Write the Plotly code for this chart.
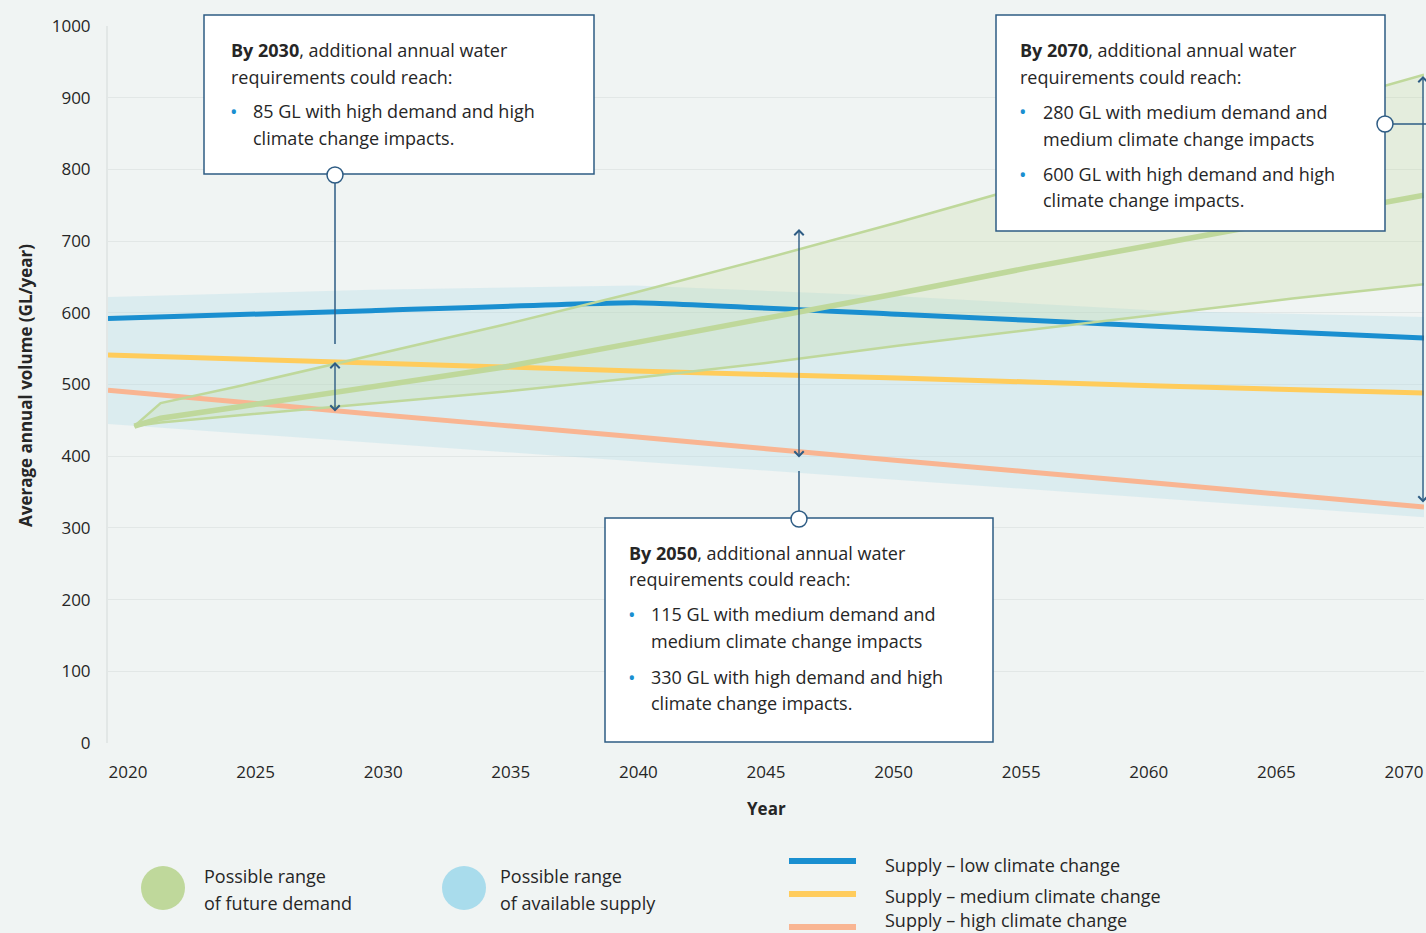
import plotly.graph_objects as go

# ---------------- data ----------------
supply_years = [2020, 2030, 2040, 2050, 2060, 2070]
supply_low = [592, 603, 614, 598, 581, 565]
supply_medium = [541, 530, 519, 509, 498, 488]
supply_high = [492, 459, 427, 394, 362, 329]
supply_range_upper = [622, 632, 638, 623, 603, 594]
supply_range_lower = [445, 419, 393, 367, 341, 315]

demand_years = [2021, 2022, 2025, 2030, 2035, 2040, 2045, 2050, 2055, 2060, 2065, 2070]
demand_high = [442, 474, 498, 540, 583, 628, 676, 726, 778, 830, 880, 932]
demand_medium = [442, 453, 469, 496, 524, 558, 592, 627, 663, 697, 731, 764]
demand_low = [442, 447, 457, 474, 490, 509, 530, 554, 576, 599, 620, 640]

x_ticks = [2020, 2025, 2030, 2035, 2040, 2045, 2050, 2055, 2060, 2065, 2070]
y_ticks = [0, 100, 200, 300, 400, 500, 600, 700, 800, 900, 1000]

# ---------------- styling ----------------
FONT = "Open Sans"
FS = 18
TXT = "#262626"
BG = "#f0f4f3"
GRID = "#e2e7e6"
BLUE = "#1a8fd0"
YELLOW = "#ffcc5c"
ORANGE = "#f9b592"
GREEN = "#bfd89b"
BOXC = "#2e5c84"

W, H = 1426, 933
L, R, T, B = 108, 1424, 26, 743


def px(x):
    return (x - L) / (R - L)


def py(y):
    return (B - y) / (B - T)


fig = go.Figure()

# supply band
fig.add_trace(go.Scatter(x=supply_years, y=supply_range_upper, mode="lines",
                         line=dict(width=0), hoverinfo="skip", showlegend=False))
fig.add_trace(go.Scatter(x=supply_years, y=supply_range_lower, mode="lines",
                         line=dict(width=0), fill="tonexty",
                         fillcolor="rgba(172,218,232,0.30)", hoverinfo="skip",
                         showlegend=False))
# demand band
fig.add_trace(go.Scatter(x=demand_years, y=demand_high, mode="lines",
                         line=dict(width=0), hoverinfo="skip", showlegend=False))
fig.add_trace(go.Scatter(x=demand_years, y=demand_low, mode="lines",
                         line=dict(width=0), fill="tonexty",
                         fillcolor="rgba(191,216,155,0.25)", hoverinfo="skip",
                         showlegend=False))
# supply lines
for vals, col in [(supply_low, BLUE), (supply_medium, YELLOW), (supply_high, ORANGE)]:
    fig.add_trace(go.Scatter(x=supply_years, y=vals, mode="lines",
                             line=dict(color=col, width=5, shape="spline", smoothing=0.3),
                             showlegend=False))
# demand lines
fig.add_trace(go.Scatter(x=demand_years, y=demand_high, mode="lines",
                         line=dict(color=GREEN, width=2.5), showlegend=False))
fig.add_trace(go.Scatter(x=demand_years, y=demand_low, mode="lines",
                         line=dict(color=GREEN, width=2.5), showlegend=False))
fig.add_trace(go.Scatter(x=demand_years, y=demand_medium, mode="lines",
                         line=dict(color=GREEN, width=5.5), showlegend=False))
# carrier for tick-label axis
fig.add_trace(go.Scatter(x=[x_ticks[0], x_ticks[-1]], y=[0, 0], xaxis="x2",
                         mode="lines", line=dict(width=0), opacity=0,
                         hoverinfo="skip", showlegend=False))

shapes = []
annotations = []

# boxes
for (x0, y0, x1, y1) in [(204, 15, 594, 174), (605, 518, 993, 742), (996, 15, 1385, 231)]:
    shapes.append(dict(type="rect", xref="paper", yref="paper",
                       x0=px(x0), x1=px(x1), y0=py(y1), y1=py(y0),
                       fillcolor="white", line=dict(color=BOXC, width=1.5),
                       layer="above"))
# connectors
for (x0, y0, x1, y1) in [(335, 175, 335, 344), (799, 519, 799, 471), (1385, 124, 1426, 124)]:
    shapes.append(dict(type="line", xref="paper", yref="paper",
                       x0=px(x0), x1=px(x1), y0=py(y0), y1=py(y1),
                       line=dict(color=BOXC, width=1.5), layer="above"))
# circles
for (cx, cy) in [(335, 175), (799, 519), (1385, 124)]:
    r = 8
    shapes.append(dict(type="circle", xref="paper", yref="paper",
                       x0=px(cx - r), x1=px(cx + r), y0=py(cy + r), y1=py(cy - r),
                       fillcolor="white", line=dict(color=BOXC, width=1.5),
                       layer="above"))

# double arrows
for (x, ytop, ybot) in [(335, 362, 413), (799, 229, 459), (1423, 76, 504)]:
    annotations.append(dict(xref="paper", yref="paper", x=px(x), y=py(ytop),
                            ax=0, ay=ybot - ytop, text="", showarrow=True,
                            arrowhead=4, startarrowhead=4, arrowside="end+start",
                            arrowsize=1.3, startarrowsize=1.3, arrowwidth=1.4,
                            arrowcolor=BOXC))


def txt(x, y, s, size=FS, color=TXT, xanchor="left"):
    annotations.append(dict(xref="paper", yref="paper", x=px(x), y=py(y),
                            text=s, showarrow=False, xanchor=xanchor,
                            yanchor="middle", font=dict(family=FONT, size=size,
                                                         color=color)))


def bullet(x, y):
    txt(x, y, "•", size=20, color=BLUE, xanchor="center")


# box 1
txt(229, 50, "<b>By 2030</b>, additional annual water")
txt(229, 77, "requirements could reach:")
bullet(234, 111)
txt(251, 111, "85 GL with high demand and high")
txt(251, 138, "climate change impacts.")
# box 2
txt(627, 553, "<b>By 2050</b>, additional annual water")
txt(627, 579, "requirements could reach:")
bullet(632, 614)
txt(649, 614, "115 GL with medium demand and")
txt(649, 641, "medium climate change impacts")
bullet(632, 677)
txt(649, 677, "330 GL with high demand and high")
txt(649, 703, "climate change impacts.")
# box 3
txt(1018, 50, "<b>By 2070</b>, additional annual water")
txt(1018, 77, "requirements could reach:")
bullet(1023, 112)
txt(1041, 112, "280 GL with medium demand and")
txt(1041, 139, "medium climate change impacts")
bullet(1023, 174)
txt(1041, 174, "600 GL with high demand and high")
txt(1041, 200, "climate change impacts.")

# axis titles
annotations.append(dict(xref="paper", yref="paper", x=px(25), y=py(386),
                        text="<b>Average annual volume (GL/year)</b>",
                        textangle=-90, showarrow=False, xanchor="center",
                        yanchor="middle", font=dict(family=FONT, size=17, color=TXT)))
txt(766, 808, "<b>Year</b>", xanchor="center", size=17)

# legend
for (cx, col) in [(163, GREEN), (464, "#a9dcec")]:
    r = 22
    shapes.append(dict(type="circle", xref="paper", yref="paper",
                       x0=px(cx - r), x1=px(cx + r), y0=py(888 + r), y1=py(888 - r),
                       fillcolor=col, line=dict(width=0)))
txt(202, 876, "Possible range")
txt(202, 903, "of future demand")
txt(498, 876, "Possible range")
txt(498, 903, "of available supply")
for (yy, col, label, ty) in [(861, BLUE, "Supply – low climate change", 865),
                             (894, YELLOW, "Supply – medium climate change", 896),
                             (927, ORANGE, "Supply – high climate change", 920)]:
    shapes.append(dict(type="line", xref="paper", yref="paper",
                       x0=px(789), x1=px(856), y0=py(yy), y1=py(yy),
                       line=dict(color=col, width=6)))
    txt(883, ty, label)

fig.update_layout(
    width=W, height=H, autosize=False,
    margin=dict(l=L, r=W - R, t=T, b=H - B),
    paper_bgcolor=BG, plot_bgcolor=BG,
    font=dict(family=FONT, size=FS, color=TXT),
    showlegend=False,
    xaxis=dict(range=[2020, 2070], showticklabels=False, showgrid=False,
               zeroline=False, showline=False, fixedrange=True),
    xaxis2=dict(overlaying="x", anchor="y", side="bottom",
                range=[2019.216, 2070.784], tickvals=x_ticks,
                ticks="outside", ticklen=14, tickcolor="rgba(0,0,0,0)",
                showgrid=False, zeroline=False, showline=False,
                tickfont=dict(family=FONT, size=17, color=TXT)),
    yaxis=dict(range=[0, 1000], tickvals=y_ticks, showgrid=True,
               gridcolor=GRID, gridwidth=1, zeroline=False,
               showline=True, linecolor=GRID, linewidth=2,
               ticks="outside", ticklen=12, tickcolor="rgba(0,0,0,0)",
               tickfont=dict(family=FONT, size=17, color=TXT)),
    shapes=shapes,
    annotations=annotations,
)

fig.write_html("out.html")
